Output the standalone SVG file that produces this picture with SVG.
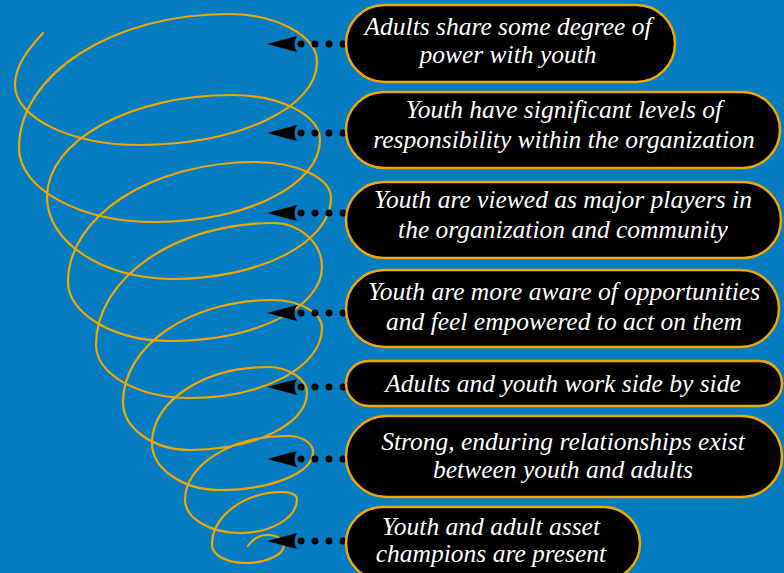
<svg xmlns="http://www.w3.org/2000/svg" width="784" height="573" viewBox="0 0 784 573">
<defs>
<style>
.box{fill:#000;stroke:#f0a800;stroke-width:2.5}
.lbl{font-family:'Liberation Serif','DejaVu Serif',serif;font-style:italic;font-size:25.5px;fill:#fff;text-anchor:middle}
.dots{fill:none;stroke:#000;stroke-width:7;stroke-linecap:round;stroke-dasharray:0 14;marker-end:url(#arr)}
.spiral{fill:none;stroke:#f0a800;stroke-width:2.2;stroke-linejoin:round;stroke-linecap:round}
</style>
<marker id="arr" markerUnits="userSpaceOnUse" viewBox="0 0 30 16" refX="0" refY="8" markerWidth="30" markerHeight="16" orient="auto"><path d="M30 8 L0 0 Q5 8 0 16 Z" fill="#000"/></marker>
</defs>
<rect x="0" y="0" width="784" height="573" fill="#037cc1"/>
<g id="spiral">
<path class="spiral" d="M43 33 C35 42 15 62 15 85 C15 118 71 145 140 145 C237 145 317 108 317 62 C317 36 277 14 228 14 C113 14 19 74 19 148 C19 189 80 222 155 222 C246 222 320 185 320 140 C320 115 280 95 232 95 C130 95 47 141 47 197 C47 242 103 279 172 279 C259 279 331 243 331 198 C331 178 297 162 255 162 C152 162 68 216 68 282 C68 314 114 341 170 341 C254 341 322 308 322 267 C322 243 300 223 273 223 C176 223 96 278 96 345 C96 374 138 398 190 398 C263 398 322 367 322 328 C322 313 300 300 272 300 C190 300 123 346 123 402 C123 428 153 450 190 450 C254 450 307 424 307 393 C307 379 289 367 268 367 C204 367 152 401 152 443 C152 469 183 490 220 490 C271 490 313 473 313 452 C313 443 302 436 288 436 C231 436 185 465 185 500 C185 518 210 533 240 533 C271 533 297 518 297 499 C297 495 291 492 283 492 C244 492 212 516 212 545 C212 555 227 563 245 563 C266 563 284 555 284 545 C284 540 277 535 268 535 C258 535 252 540 248 546"/>
</g>
<g id="connectors">
<path class="dots" d="M343 44 H297"/>
<path class="dots" d="M343 133 H297"/>
<path class="dots" d="M343 213 H297"/>
<path class="dots" d="M343 313 H297"/>
<path class="dots" d="M343 387 H297"/>
<path class="dots" d="M343 459 H297"/>
<path class="dots" d="M343 541 H297"/>
</g>
<g id="node1">
<rect class="box" x="346" y="5" width="329" height="77" rx="38.5"/>
<text class="lbl" x="508" y="35">Adults share some degree of</text>
<text class="lbl" x="508" y="63">power with youth</text>
</g>
<g id="node2">
<rect class="box" x="346" y="92" width="434" height="76" rx="38"/>
<text class="lbl" x="564" y="118">Youth have significant levels of</text>
<text class="lbl" x="564" y="148">responsibility within the organization</text>
</g>
<g id="node3">
<rect class="box" x="346" y="182" width="435" height="76" rx="38"/>
<text class="lbl" x="563" y="208">Youth are viewed as major players in</text>
<text class="lbl" x="563" y="238">the organization and community</text>
</g>
<g id="node4">
<rect class="box" x="346" y="270" width="433" height="77" rx="38.5"/>
<text class="lbl" x="564" y="300">Youth are more aware of opportunities</text>
<text class="lbl" x="564" y="330">and feel empowered to act on them</text>
</g>
<g id="node5">
<rect class="box" x="346" y="361" width="436" height="45" rx="22.5"/>
<text class="lbl" x="563" y="392">Adults and youth work side by side</text>
</g>
<g id="node6">
<rect class="box" x="346" y="416" width="436" height="81" rx="40.5"/>
<text class="lbl" x="563" y="450">Strong, enduring relationships exist</text>
<text class="lbl" x="563" y="478">between youth and adults</text>
</g>
<g id="node7">
<rect class="box" x="346" y="507" width="294" height="73" rx="36.5"/>
<text class="lbl" x="491" y="535">Youth and adult asset</text>
<text class="lbl" x="491" y="562">champions are present</text>
</g>
</svg>
